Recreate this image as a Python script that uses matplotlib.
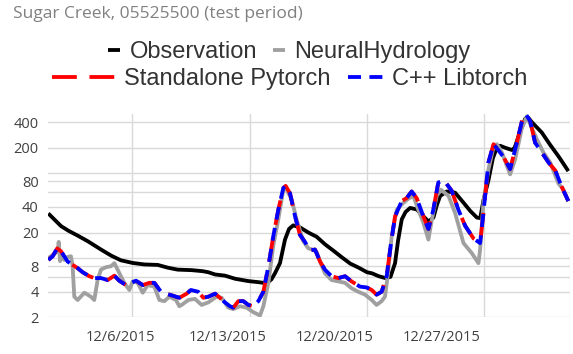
import numpy as np
import pandas as pd
import matplotlib
matplotlib.use('Agg')
import matplotlib.pyplot as plt
import matplotlib.dates as mdates
from matplotlib.ticker import FixedLocator, FixedFormatter, NullFormatter, NullLocator

plt.rcParams['font.family'] = ['Open Sans', 'DejaVu Sans']

title = 'Sugar Creek, 05525500 (test period)'
start = pd.Timestamp('2015-12-01')

# observation, time in days since 12/1/2015
t_obs = [0, 0.4, 0.76, 1.2, 1.75, 2.35, 3.14, 3.74, 4.33, 5.03, 5.73, 6.52, 7.12, 7.71,
         8.54, 9.2, 9.54, 9.94, 10.53, 11.13, 11.92, 12.5, 12.82, 13.1, 13.3, 13.51, 13.81,
         14.11, 14.35, 14.6, 15.0, 15.5, 16.0, 16.5, 17.0, 17.5, 18.0, 18.5, 19.0, 19.3,
         19.7, 20.1, 20.4, 20.67, 20.85, 21.07, 21.3, 21.57, 21.97, 22.36, 22.66, 22.96,
         23.16, 23.36, 23.76, 24.25, 24.75, 25.15, 25.55, 25.75, 25.94, 26.24, 26.5, 26.74,
         26.94, 27.23, 27.64, 27.8, 28.13, 28.43, 28.6, 28.83, 29.42, 29.92, 30.42, 31.0]
obs = [33.6, 28, 23.8, 21, 18.4, 15.8, 12.6, 10.7, 9.4, 8.75, 8.4, 8.3, 7.7, 7.3,
       7.2, 7.0, 6.8, 6.4, 6.2, 5.7, 5.35, 5.2, 5.1, 5.2, 5.6, 6.6, 8.7,
       16.5, 22.0, 24.3, 23, 20, 17.8, 14.5, 12.2, 10.2, 8.6, 7.7, 6.8, 6.6,
       6.1, 5.8, 6.0, 8.7, 16, 28.6, 35, 39, 37.4, 31.1, 27, 30,
       42, 54, 61, 59, 45, 36, 30, 29.6, 48, 83, 150, 200,
       211, 200, 188, 200, 312, 440, 455, 400, 302, 216, 158, 106]

# NeuralHydrology
t_nh = [0, 0.3, 0.56, 0.62, 0.7, 0.76, 0.95, 1.15, 1.35, 1.45, 1.55, 1.75, 2.15, 2.54,
        2.74, 2.94, 3.14, 3.44, 3.74, 3.94, 4.13, 4.53, 4.83, 5.03, 5.33, 5.63, 5.92,
        6.32, 6.62, 6.92, 7.22, 7.61, 7.81, 7.95, 8.35, 8.74, 9.14, 9.54, 10.03, 10.33,
        10.73, 11.03, 11.43, 11.82, 12.22, 12.62, 12.82, 13.12, 13.41, 13.71, 14.01, 14.15,
        14.51, 14.81, 15.2, 15.5, 15.8, 16.0, 16.2, 16.49, 16.89, 17.29, 17.69, 18.08,
        18.48, 18.88, 19.28, 19.57, 19.87, 20.07, 20.23, 20.47, 20.77, 21.07, 21.46, 21.76,
        22.06, 22.36, 22.66, 22.86, 23.15, 23.4, 23.86, 24.25, 24.75, 25.25, 25.64, 25.74,
        25.94, 26.24, 26.54, 26.74, 27.04, 27.53, 27.83, 28.23, 28.53, 28.83, 29.13, 29.52,
        29.92, 30.42, 30.7, 31.0]
nh = [10, 11, 12, 15.5, 9.2, 10.3, 9.5, 10.3, 10.5, 8.0, 3.5, 3.2, 3.9, 3.5,
      3.2, 5.5, 7.3, 7.8, 8.0, 8.7, 7.3, 5.1, 4.2, 5.3, 5.1, 3.9, 4.8,
      4.6, 3.2, 3.1, 3.5, 3.2, 2.7, 2.8, 3.2, 3.3, 2.8, 3.0, 3.5, 3.4,
      2.6, 2.5, 2.7, 2.6, 2.3, 2.1, 2.7, 5.1, 13.9, 28.5, 64, 67,
      49, 28, 15.8, 13, 12.5, 11.7, 9.1, 6.6, 5.5, 5.3, 5.1, 4.4,
      4.0, 3.7, 3.2, 2.8, 3.1, 3.5, 6.1, 18, 37, 43, 50, 54,
      37, 26, 16.5, 28, 54, 64, 54, 34, 15, 11.4, 8.7, 12.4,
      45, 111, 205, 220, 176, 97, 146, 340, 470, 340, 250, 175,
      134, 75, 65, 47]

# standalone pytorch and c++ libtorch (the two runs overlap)
t_model = [0, 0.26, 0.53, 0.76, 1.15, 1.45, 1.75, 2.05, 2.45, 2.74, 3.14, 3.54, 3.94,
           4.23, 4.63, 4.93, 5.23, 5.63, 6.02, 6.32, 6.72, 7.02, 7.42, 7.81, 8.25, 8.5,
           8.94, 9.24, 9.54, 9.94, 10.23, 10.53, 10.83, 11.03, 11.33, 11.63, 11.92, 12.22,
           12.52, 12.82, 13.12, 13.41, 13.71, 14.01, 14.15, 14.41, 14.71, 15.0, 15.3, 15.6,
           15.9, 16.2, 16.49, 16.89, 17.29, 17.69, 18.08, 18.58, 18.98, 19.28, 19.57, 19.87,
           20.17, 20.43, 20.67, 21.07, 21.36, 21.66, 21.96, 22.36, 22.66, 22.95, 23.25, 23.6,
           24.05, 24.45, 24.85, 25.35, 25.74, 25.94, 26.24, 26.54, 26.84, 27.14, 27.53, 27.93,
           28.27, 28.5, 28.73, 29.02, 29.42, 29.82, 30.22, 30.61, 31.0]
pytorch = [9.5, 10.5, 13, 12, 9.1, 8.3, 7.6, 6.8, 6.1, 5.8, 5.8, 5.5, 6.2,
           5.4, 4.8, 5.1, 5.4, 4.8, 5.1, 5.1, 4.0, 3.8, 3.6, 3.4, 3.8, 4.2,
           4.0, 3.4, 3.5, 3.8, 3.4, 3.0, 2.7, 2.6, 3.1, 3.1, 2.8, 2.7,
           3.1, 4.0, 8.0, 18, 37, 67, 71, 58, 31, 18.8, 15.5, 12.3,
           12.6, 9.1, 7.3, 6.1, 5.8, 6.1, 5.3, 4.6, 4.5, 4.2, 3.7, 4.0,
           6.1, 15, 31, 47, 51, 61, 51, 31, 22, 37, 78, 82,
           62, 37, 24, 17, 15, 34, 135, 220, 186, 155, 112, 229,
           440, 485, 410, 229, 176, 134, 108, 69, 47]
libtorch = list(pytorch)

y_grid = [2, 4, 6, 8, 10, 20, 40, 60, 80, 100, 200, 400]
y_labels = ['2', '4', '', '8', '', '20', '40', '', '80', '', '200', '400']
grid_days = [5, 12, 19, 26]
label_days = [4.30, 10.71, 17.06, 23.46]
x_labels = ['12/6/2015', '12/13/2015', '12/20/2015', '12/27/2015']


def to_dates(days):
    return start + pd.to_timedelta(np.array(days), unit='D')


W, H = 573, 354
fig = plt.figure(figsize=(W / 100, H / 100), dpi=100)
ax = fig.add_axes([48.3 / W, 1 - 317.3 / H, (570 - 48.3) / W, (317.3 - 114) / H])

lw = 2.75
style = dict(lw=lw, solid_capstyle='butt', solid_joinstyle='round', dash_joinstyle='round')
l_obs, = ax.plot(to_dates(t_obs), obs, color='black', zorder=3, **style)
l_nh, = ax.plot(to_dates(t_nh), nh, color='#a0a0a0', zorder=4, **style)
l_pt, = ax.plot(to_dates(t_model), pytorch, color='red', dashes=(6.5, 3.3), zorder=5, **style)
l_lt, = ax.plot(to_dates(t_model), libtorch, color='blue', dashes=(3.4, 2.2), zorder=6, **style)

ax.set_yscale('log')
ax.set_ylim(2, 500)
ax.yaxis.set_major_locator(FixedLocator(y_grid))
ax.yaxis.set_major_formatter(FixedFormatter(y_labels))
ax.yaxis.set_minor_locator(NullLocator())

ax.set_xlim(mdates.date2num(start), mdates.date2num(start + pd.Timedelta(days=31.1)))
ax.xaxis.set_major_locator(FixedLocator(mdates.date2num(to_dates(grid_days))))
ax.xaxis.set_major_formatter(NullFormatter())
ax.xaxis.set_minor_locator(FixedLocator(mdates.date2num(to_dates(label_days))))
ax.xaxis.set_minor_formatter(FixedFormatter(x_labels))

ax.grid(True, which='major', color='#d9d9d9', lw=1.0)
ax.set_axisbelow(True)
for s in ax.spines.values():
    s.set_visible(False)
ax.tick_params(axis='both', which='both', length=0)
ax.tick_params(axis='y', labelsize=10.5, labelcolor='#404040', pad=7)
ax.tick_params(axis='x', which='minor', labelsize=10.5, labelcolor='#404040', pad=9)

fig.text(12.7 / W, 1 - 14 / H, title, ha='left', va='center', fontsize=12.5, color='#808080')

# legend keys have different lengths, so one legend per entry
entries = [(l_obs, 'Observation', 108.3, 52, 0.5),
           (l_nh, 'NeuralHydrology', 273.3, 52, 0.5),
           (l_pt, 'Standalone Pytorch', 51.7, 79, 2.67),
           (l_lt, 'C++ Libtorch', 348, 79, 1.48)]
for h, lab, x, y, hl in entries:
    fig.legend(handles=[h], labels=[lab], loc='center left',
               bbox_to_anchor=(x / W, 1 - y / H), bbox_transform=fig.transFigure,
               frameon=False, borderpad=0, borderaxespad=0, handlelength=hl,
               handletextpad=0.4, labelcolor='#333333',
               prop={'family': 'Liberation Sans', 'size': 17})

fig.savefig('out.png', dpi=100)
